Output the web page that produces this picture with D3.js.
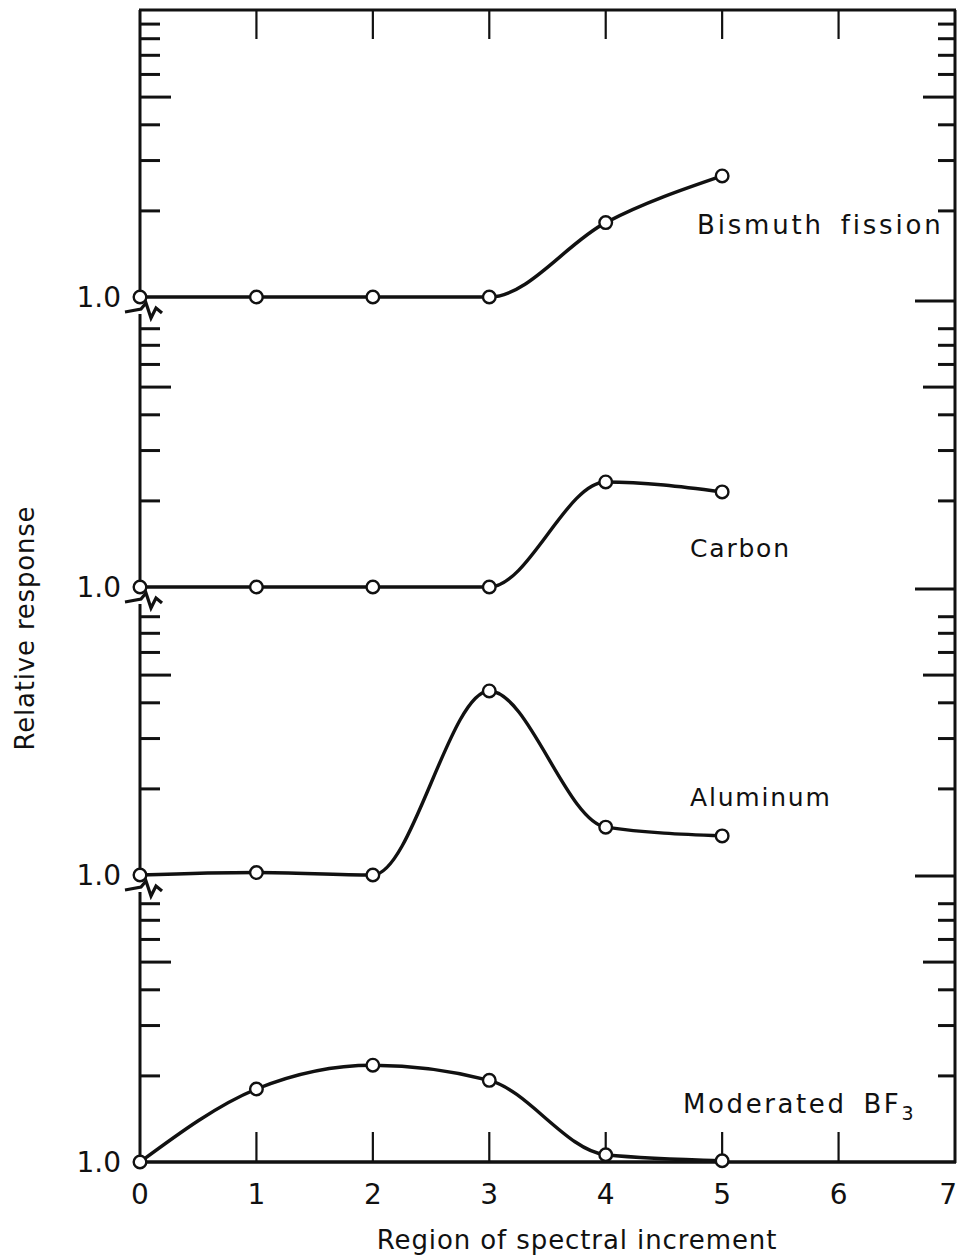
<!DOCTYPE html>
<html>
<head>
<meta charset="utf-8">
<script src="https://cdn.jsdelivr.net/npm/d3@7"></script>
<style>
  html, body { margin: 0; padding: 0; background: #fff; }
  svg { display: block; }
  text { font-family: "DejaVu Sans", "Liberation Sans", sans-serif; fill: #111; }
</style>
</head>
<body>
<svg id="chart" width="957" height="1260"></svg>
<script>
// Region of spectral increment (x) and relative detector response (one log decade per panel)
const regions = [0, 1, 2, 3, 4, 5];
const xTickValues = [0, 1, 2, 3, 4, 5, 6, 7];
const bismuthFission = [1.0, 1.0, 1.0, 1.0, 1.82, 2.65];
const carbon = [1.0, 1.0, 1.0, 1.0, 2.33, 2.15];
const aluminum = [1.0, 1.02, 1.0, 4.40, 1.47, 1.37];
const moderatedBF3 = [1.0, 1.80, 2.18, 1.93, 1.06, 1.01];
const seriesNames = ["Bismuth fission", "Carbon", "Aluminum", "Moderated BF"];
const yMinorTicks = [2, 3, 4, 5, 6, 7, 8, 9];
const yTickLabel = "1.0";

const svg = d3.select("#chart");
const ink = "#111";

// Frame
const frameLeft = 140, frameRight = 955, frameTop = 10, frameBottom = 1162;
const decade = 286;
// panels from top to bottom, each baseline is the 1.0 level
const panels = [
  { name: seriesNames[0], values: bismuthFission, base: 297, label: [697, 234], fs: 26, ls: 2.8, ws: 6 },
  { name: seriesNames[1], values: carbon,         base: 587, label: [690, 557], fs: 25, ls: 1.8, ws: 0 },
  { name: seriesNames[2], values: aluminum,       base: 875, label: [690, 806], fs: 25, ls: 1.8, ws: 0 },
  { name: seriesNames[3], values: moderatedBF3,   base: frameBottom, label: [683, 1113], fs: 26, ls: 2.6, ws: 6, sub: "3" }
];

const x = d3.scaleLinear().domain([0, 7]).range([frameLeft, frameRight]);
panels.forEach(p => {
  p.y = d3.scaleLog().domain([1, 10]).range([p.base, p.base - decade]);
});

const g = svg.append("g");

// Top border, bottom axis line, right edge
g.append("line").attr("x1", frameLeft - 1).attr("x2", frameRight + 1).attr("y1", frameTop).attr("y2", frameTop)
  .attr("stroke", ink).attr("stroke-width", 3);
g.append("line").attr("x1", frameLeft).attr("x2", frameRight + 1).attr("y1", frameBottom).attr("y2", frameBottom)
  .attr("stroke", ink).attr("stroke-width", 3.4);
g.append("line").attr("x1", frameRight).attr("x2", frameRight).attr("y1", frameTop).attr("y2", frameBottom + 1)
  .attr("stroke", ink).attr("stroke-width", 3);

// Left axis: one segment per panel, broken below each 1.0 level
panels.forEach((p, i) => {
  const y0 = i === 0 ? frameTop : panels[i - 1].base + 17;
  g.append("line").attr("x1", frameLeft).attr("x2", frameLeft).attr("y1", y0).attr("y2", p.base)
    .attr("stroke", ink).attr("stroke-width", 3);
  if (i > 0) {
    const b = panels[i - 1].base;
    const zig = [[125, b + 15], [141, b + 12], [146, b + 6], [151, b + 21], [156, b + 11], [162, b + 16]];
    g.append("path").attr("d", d3.line()(zig)).attr("fill", "none")
      .attr("stroke", ink).attr("stroke-width", 3.2).attr("stroke-linejoin", "miter");
  }
});

// Log ticks in each panel (left and right edges)
panels.forEach((p, i) => {
  const ticks = yMinorTicks.filter(t => t !== 9 || i === 0);
  ticks.forEach(t => {
    const yy = p.y(t);
    const long = t === 5;
    g.append("line").attr("x1", frameLeft).attr("x2", frameLeft + (long ? 31 : 20)).attr("y1", yy).attr("y2", yy)
      .attr("stroke", ink).attr("stroke-width", 3);
    g.append("line").attr("x1", frameRight).attr("x2", frameRight - (long ? 32 : 17)).attr("y1", yy).attr("y2", yy)
      .attr("stroke", ink).attr("stroke-width", 3);
  });
  if (i > 0) {
    const yy = p.y(10);
    g.append("line").attr("x1", frameRight).attr("x2", frameRight - 40).attr("y1", yy).attr("y2", yy)
      .attr("stroke", ink).attr("stroke-width", 3);
  }
  // 1.0 label
  g.append("text").attr("x", 121).attr("y", p.base + 10).attr("text-anchor", "end")
    .attr("font-size", 28).text(yTickLabel);
});

// x ticks, inward from top and bottom
xTickValues.filter(v => v > 0 && v < 7).forEach(v => {
  g.append("line").attr("x1", x(v)).attr("x2", x(v)).attr("y1", frameBottom).attr("y2", frameBottom - 30)
    .attr("stroke", ink).attr("stroke-width", 2.2);
  g.append("line").attr("x1", x(v)).attr("x2", x(v)).attr("y1", frameTop).attr("y2", frameTop + 29)
    .attr("stroke", ink).attr("stroke-width", 2.2);
});
xTickValues.forEach(v => {
  const last = v === xTickValues[xTickValues.length - 1];
  g.append("text").attr("x", last ? 957 : x(v)).attr("y", 1204)
    .attr("text-anchor", last ? "end" : "middle")
    .attr("font-size", 28).text(v);
});

// Curves and points
const line = d3.line().curve(d3.curveMonotoneX);
panels.forEach(p => {
  const pts = regions.map((r, k) => [x(r), p.y(p.values[k])]);
  g.append("path").attr("d", line(pts)).attr("fill", "none")
    .attr("stroke", ink).attr("stroke-width", 3.4);
  g.selectAll(null).data(pts).enter().append("circle")
    .attr("cx", d => d[0]).attr("cy", d => d[1]).attr("r", 6.3)
    .attr("fill", "#fff").attr("stroke", ink).attr("stroke-width", 2.4);
  const t = g.append("text").attr("x", p.label[0]).attr("y", p.label[1])
    .attr("font-size", p.fs).attr("letter-spacing", p.ls).attr("word-spacing", p.ws).text(p.name);
  if (p.sub) {
    t.append("tspan").attr("dy", 7).attr("font-size", 19).text(p.sub);
  }
});

// Axis titles
g.append("text").attr("x", 577).attr("y", 1249).attr("text-anchor", "middle")
  .attr("font-size", 26).attr("letter-spacing", 0.9).text("Region of spectral increment");
g.append("text").attr("transform", "translate(34,628) rotate(-90)").attr("text-anchor", "middle")
  .attr("font-size", 26).attr("letter-spacing", 0.8).text("Relative response");
</script>
</body>
</html>
